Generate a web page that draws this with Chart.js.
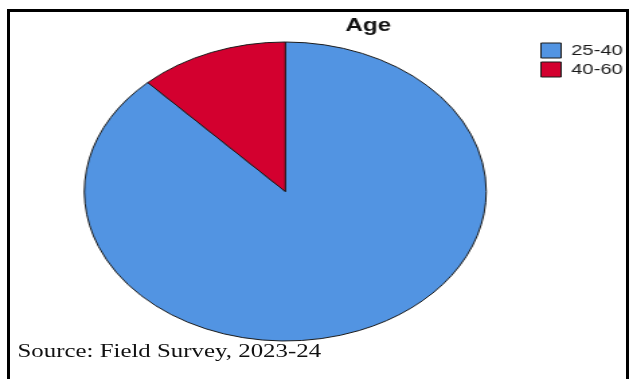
<!DOCTYPE html>
<html>
<head>
<meta charset="utf-8">
<script src="https://cdn.jsdelivr.net/npm/chart.js@4/dist/chart.umd.min.js"></script>
<style>
    html, body { margin: 0; padding: 0; background: #fff; overflow: hidden; }
    body { width: 629px; height: 379px; position: relative; }
    /* the original picture is stretched sideways, so is this one */
    #stretch {
        position: absolute; left: 0; top: 0;
        width: 468px; height: 379px;
        transform: scaleX(1.344);
        transform-origin: 0 0;
    }
    #frame {
        position: absolute; left: 7px; top: 9px;
        width: 616px; height: 420px;
        border: 3px solid #000; border-bottom: none;
    }
    #source {
        position: absolute; left: 13px; top: 342px;
        font: 18.5px/18px "Liberation Serif", "Times New Roman", serif;
        color: #111; white-space: nowrap;
    }
</style>
</head>
<body>
<div id="frame"></div>
<div id="stretch">
    <canvas id="ageChart" width="468" height="379"></canvas>
    <div id="source">Source: Field Survey, 2023-24</div>
</div>

<script>
// -----------------------------
// DATA
// -----------------------------
const ageGroups = ["25-40", "40-60"];
const ageShares = [88, 12];
const sliceColors = ["#5294e2", "#d3002f"];

const TITLE_X = 274;      // centre of "Age"
const LEGEND_TOP = 39;
const LEGEND_LEFT = 398.5;


// -----------------------------
// PLACE TITLE + LEGEND
// -----------------------------
const placeBlocks = {
    id: 'placeBlocks',
    afterLayout(chart) {
        const t = chart.titleBlock;
        t.left = TITLE_X - 60;
        t.right = TITLE_X + 60;
        t.width = 120;

        const lg = chart.legend;
        const h = lg.bottom - lg.top;
        const w = lg.right - lg.left;
        lg.top = LEGEND_TOP;
        lg.bottom = LEGEND_TOP + h;
        lg.left = LEGEND_LEFT;
        lg.right = LEGEND_LEFT + w;
    }
};


// -----------------------------
// CHART
// -----------------------------
const ctx = document.getElementById("ageChart").getContext("2d");
const ageChart = new Chart(ctx, {
    type: "pie",
    data: {
        labels: ageGroups,
        datasets: [{
            data: ageShares,
            backgroundColor: sliceColors,
            borderColor: "#1a1a1a",
            borderWidth: 1
        }]
    },
    options: {
        responsive: false,
        animation: false,
        layout: {
            padding: { top: 0, left: 33, right: 1.6, bottom: 37.5 }
        },
        plugins: {
            title: {
                display: true,
                text: "Age",
                color: "#111",
                font: { family: "'Liberation Sans', Arial, sans-serif", size: 18, weight: "bold" },
                padding: { top: 15.2, bottom: 4.7 }
            },
            legend: {
                position: "right",
                align: "start",
                fullSize: false,
                labels: {
                    boxWidth: 15,
                    boxHeight: 15,
                    padding: 4,
                    color: "#1a1a1a",
                    font: { family: "'Liberation Sans', Arial, sans-serif", size: 15 }
                }
            },
            tooltip: { enabled: false }
        }
    },
    plugins: [placeBlocks]
});
</script>
</body>
</html>
